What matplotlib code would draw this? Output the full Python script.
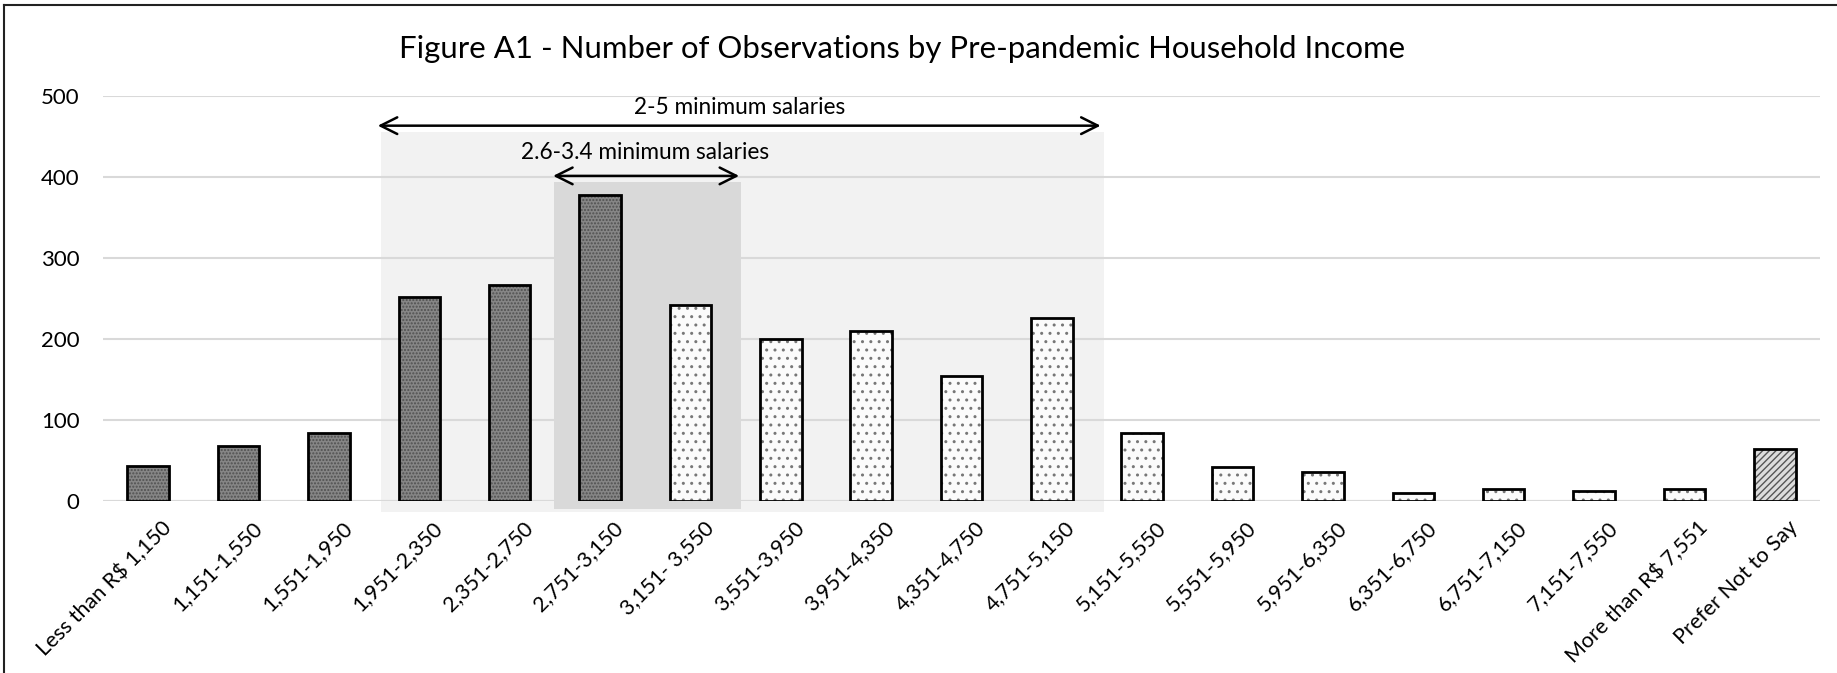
import numpy as np
import matplotlib
matplotlib.use('Agg')
import matplotlib.pyplot as plt
from matplotlib.patches import Rectangle
from matplotlib.lines import Line2D
import matplotlib.transforms as mtransforms

plt.rcParams['font.family'] = ['Lato', 'DejaVu Sans']
plt.rcParams['hatch.linewidth'] = 1.0

categories = ['Less than R$ 1,150', '1,151-1,550', '1,551-1,950', '1,951-2,350',
              '2,351-2,750', '2,751-3,150', '3,151- 3,550', '3,551-3,950',
              '3,951-4,350', '4,351-4,750', '4,751-5,150', '5,151-5,550',
              '5,551-5,950', '5,951-6,350', '6,351-6,750', '6,751-7,150',
              '7,151-7,550', 'More than R$ 7,551', 'Prefer Not to Say']
counts = [43, 67, 84, 252, 266, 377, 242, 200, 210, 154, 225, 84, 41, 36, 10, 14, 12, 14, 64]
# 0 = below 2.6 (dark), 1 = above (dotted), 2 = no answer (striped)
group = [0, 0, 0, 0, 0, 0, 1, 1, 1, 1, 1, 1, 1, 1, 1, 1, 1, 1, 2]

styles = {0: dict(face='#868686', hatch='.....', hcol='#505050'),
          1: dict(face='#fbfbfb', hatch='..', hcol='#777777'),
          2: dict(face='#dcdcdc', hatch='/////', hcol='#555555')}

fig = plt.figure(figsize=(18.37, 6.73), dpi=100)
ax = fig.add_axes([103/1837, (673-500.7)/673, (1820-103)/1837, (500.7-95.7)/673])

x = np.arange(len(categories))
for g, st in styles.items():
    idx = [i for i in range(len(categories)) if group[i] == g]
    vals = [counts[i] for i in idx]
    ax.bar(idx, vals, width=0.46, color=st['face'], hatch=st['hatch'],
           edgecolor=st['hcol'], linewidth=0, zorder=2)
ax.bar(x, counts, width=0.46, fill=False, edgecolor='black', linewidth=2.0, zorder=3)

# shaded salary bands
ax.add_patch(Rectangle((2.58, -13.6), 10.575-2.58, 455+13.6, facecolor='#f2f2f2',
                       edgecolor='none', zorder=0.2, clip_on=False))
ax.add_patch(Rectangle((4.49, -9.9), 6.56-4.49, 394+9.9, facecolor='#d9d9d9',
                       edgecolor='none', zorder=0.3, clip_on=False))

ax.annotate('', xy=(2.51, 463), xytext=(10.57, 463),
            arrowprops=dict(arrowstyle='<->', lw=1.8, color='black', mutation_scale=30), zorder=4)
ax.text(6.54, 486, '2-5 minimum salaries', ha='center', va='center', fontsize=16.3)
ax.annotate('', xy=(4.45, 401), xytext=(6.57, 401),
            arrowprops=dict(arrowstyle='<->', lw=1.8, color='black', mutation_scale=30), zorder=4)
ax.text(5.5, 430, '2.6-3.4 minimum salaries', ha='center', va='center', fontsize=16.3)

ax.set_xlim(-0.5, len(categories) - 0.5)
ax.set_ylim(0, 500)
ax.set_yticks([0, 100, 200, 300, 400, 500])
ax.yaxis.grid(True, color='#d9d9d9', linewidth=1.5)
ax.set_axisbelow(True)
for s in ax.spines.values():
    s.set_visible(False)
ax.axhline(0, color='#d9d9d9', linewidth=1.5, zorder=0.5)
ax.tick_params(axis='y', length=0, pad=17, labelsize=16)
ax.tick_params(axis='x', length=0, pad=12, labelsize=15.5)
ax.set_xticks(x)
ax.set_xticklabels(categories, rotation=45, ha='right', rotation_mode='anchor')
offset = mtransforms.ScaledTranslation(0.13, 0, fig.dpi_scale_trans)
for lab in ax.get_xticklabels():
    lab.set_transform(lab.get_transform() + offset)

fig.text(0.491, 1 - 49/673, 'Figure A1 - Number of Observations by Pre-pandemic Household Income',
         ha='center', va='center', fontsize=22.4)

# outer chart frame
fig.add_artist(Line2D([4/1837, 1], [1 - 5/673, 1 - 5/673], transform=fig.transFigure,
                      color='#222222', linewidth=1.5))
fig.add_artist(Line2D([4/1837, 4/1837], [0, 1 - 5/673], transform=fig.transFigure,
                      color='#222222', linewidth=1.5))

fig.savefig('out.png', dpi=100)
